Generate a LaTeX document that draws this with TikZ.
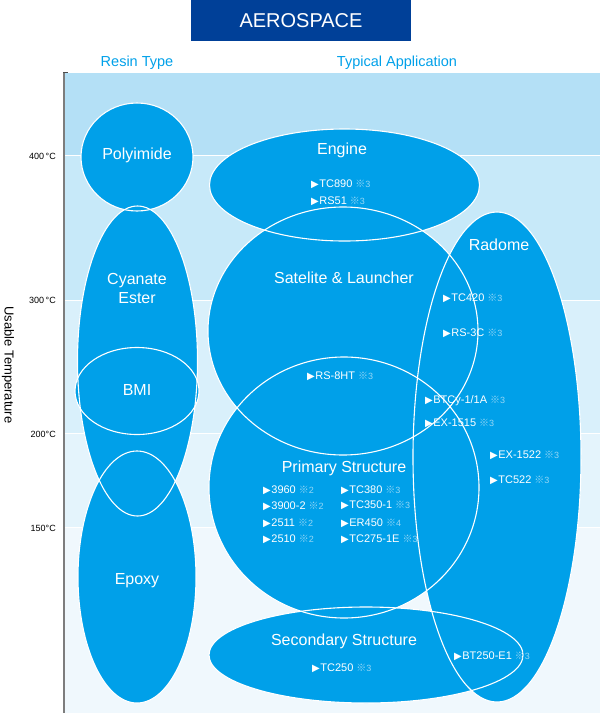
\documentclass[tikz,border=0pt]{standalone}
\usepackage{fontspec}
\usepackage{xcolor}
\usepackage{tikz}
\setmainfont{Liberation Sans}
\newfontfamily\cjk{Noto Sans CJK JP}
\newfontfamily\symf{DejaVu Sans}

\definecolor{aeroblue}{RGB}{0,64,152}
\definecolor{blobfill}{RGB}{0,160,233}
\definecolor{bandA}{RGB}{180,224,246}
\definecolor{bandB}{RGB}{199,233,249}
\definecolor{bandC}{RGB}{217,240,251}
\definecolor{bandD}{RGB}{228,244,252}
\definecolor{bandE}{RGB}{240,248,253}
\definecolor{notec}{RGB}{150,215,245}
\definecolor{axisgray}{RGB}{125,125,125}

\newcommand\itm[2]{{\symf\fontsize{10}{10}\selectfont ▶}\hspace{0.5pt}#1\hspace{3pt}{\color{notec}\cjk\fontsize{10}{10}\selectfont ※}{\color{notec}\fontsize{9}{9}\selectfont #2}}

\begin{document}
\begin{tikzpicture}[x=1pt, y=-1pt,
    blob/.style={fill=blobfill},
    rim/.style={draw=white, line width=1.1pt},
    setname/.style={text=white, font=\fontsize{16}{19}\selectfont, align=center, inner sep=0pt},
    item/.style={anchor=west, text=white, inner sep=0pt, font=\fontsize{11}{11}\selectfont},
    head/.style={text=blobfill, font=\fontsize{14.5}{14.5}\selectfont},
    temp/.style={anchor=east, font=\fontsize{9}{9}\selectfont, inner sep=0pt}]
    \useasboundingbox (0,0) rectangle (600,713);

    \fill[bandA] (65,73) rectangle (600,155);
    \fill[bandB] (65,155) rectangle (600,300);
    \fill[bandC] (65,300) rectangle (600,433);
    \fill[bandD] (65,433) rectangle (600,527);
    \fill[bandE] (65,527) rectangle (600,713);
    \foreach \yy in {155,300,433,527}
        \draw[white, line width=0.4pt] (65,\yy) -- (600,\yy);

    \foreach \x/\y/\a/\b in {137/157/56/54, 137.5/361/60/155, 137/391/62/43.5, 137/577/59/126,
        344.5/185/135/56, 343/331/135/124, 344/487.5/135/130.5, 366/655/157/48, 497/457/84/245}
        \fill[blob] (\x,\y) ellipse ({\a} and {\b});
    \foreach \x/\y/\a/\b in {137/157/56/54, 137.5/361/60/155, 137/391/62/43.5, 137/577/59/126,
        344.5/185/135/56, 343/331/135/124, 344/487.5/135/130.5, 366/655/157/48, 497/457/84/245}
        \draw[rim] (\x,\y) ellipse ({\a} and {\b});

    \node[fill=aeroblue, minimum width=220pt, minimum height=41pt, inner sep=0pt,
          text=white, font=\fontsize{20}{20}\selectfont] (title) at (301,20.5) {AEROSPACE};
    \node[head] (resin) at (137,63) {Resin Type};
    \node[head] (appl) at (397,63) {Typical Application};

    \draw[axisgray, line width=2pt] (64,72) -- (64,713);
    \draw[black!70, line width=1.5pt] (63,72.5) -- (68,72.5);
    \node[temp] (t400) at (56,156) {400\,°C};
    \node[temp] (t300) at (56,300) {300\,°C};
    \node[temp] (t200) at (56,434) {200°C};
    \node[temp] (t150) at (56,528) {150°C};
    \node[rotate=-90, font=\fontsize{13}{13}\selectfont, inner sep=0pt] (usable) at (8,365) {Usable Temperature};

    \node[setname] (polyimide) at (137,155) {Polyimide};
    \node[setname] (cyanate) at (137,288) {Cyanate\\Ester};
    \node[setname] (bmi) at (137,390) {BMI};
    \node[setname] (epoxy) at (137,581) {Epoxy};

    \node[setname] (engine) at (342,150) {Engine};
    \node[setname] (satelite) at (344,278) {Satelite \& Launcher};
    \node[setname] (radome) at (499,245) {Radome};
    \node[setname] (primary) at (344,468) {Primary Structure};
    \node[setname] (secondary) at (344,641) {Secondary Structure};

    \node[item] (tc890) at (311,184) {\itm{TC890}{3}};
    \node[item] (rs51) at (311,201) {\itm{RS51}{3}};
    \node[item] (tc420) at (443,298) {\itm{TC420}{3}};
    \node[item] (rs3c) at (443,333) {\itm{RS-3C}{3}};
    \node[item] (rs8ht) at (307,376) {\itm{RS-8HT}{3}};
    \node[item] (btcy) at (425,401) {\itm{BTCy-1/1A}{3}};
    \node[item] (ex1515) at (425,423) {\itm{EX-1515}{3}};
    \node[item] (ex1522) at (490,455) {\itm{EX-1522}{3}};
    \node[item] (tc522) at (490,480) {\itm{TC522}{3}};

    \node[item] (i3960) at (263,490) {\itm{3960}{2}};
    \node[item] (i3900) at (263,506) {\itm{3900-2}{2}};
    \node[item] (i2511) at (263,523) {\itm{2511}{2}};
    \node[item] (i2510) at (263,539) {\itm{2510}{2}};
    \node[item] (tc380) at (341,490) {\itm{TC380}{3}};
    \node[item] (tc350) at (341,505) {\itm{TC350-1}{3}};
    \node[item] (er450) at (341,523) {\itm{ER450}{4}};
    \node[item] (tc275) at (341,539) {\itm{TC275-1E}{3}};

    \node[item] (tc250) at (312,668) {\itm{TC250}{3}};
    \node[item] (bt250) at (454,656) {\itm{BT250-E1}{3}};
\end{tikzpicture}
\end{document}
